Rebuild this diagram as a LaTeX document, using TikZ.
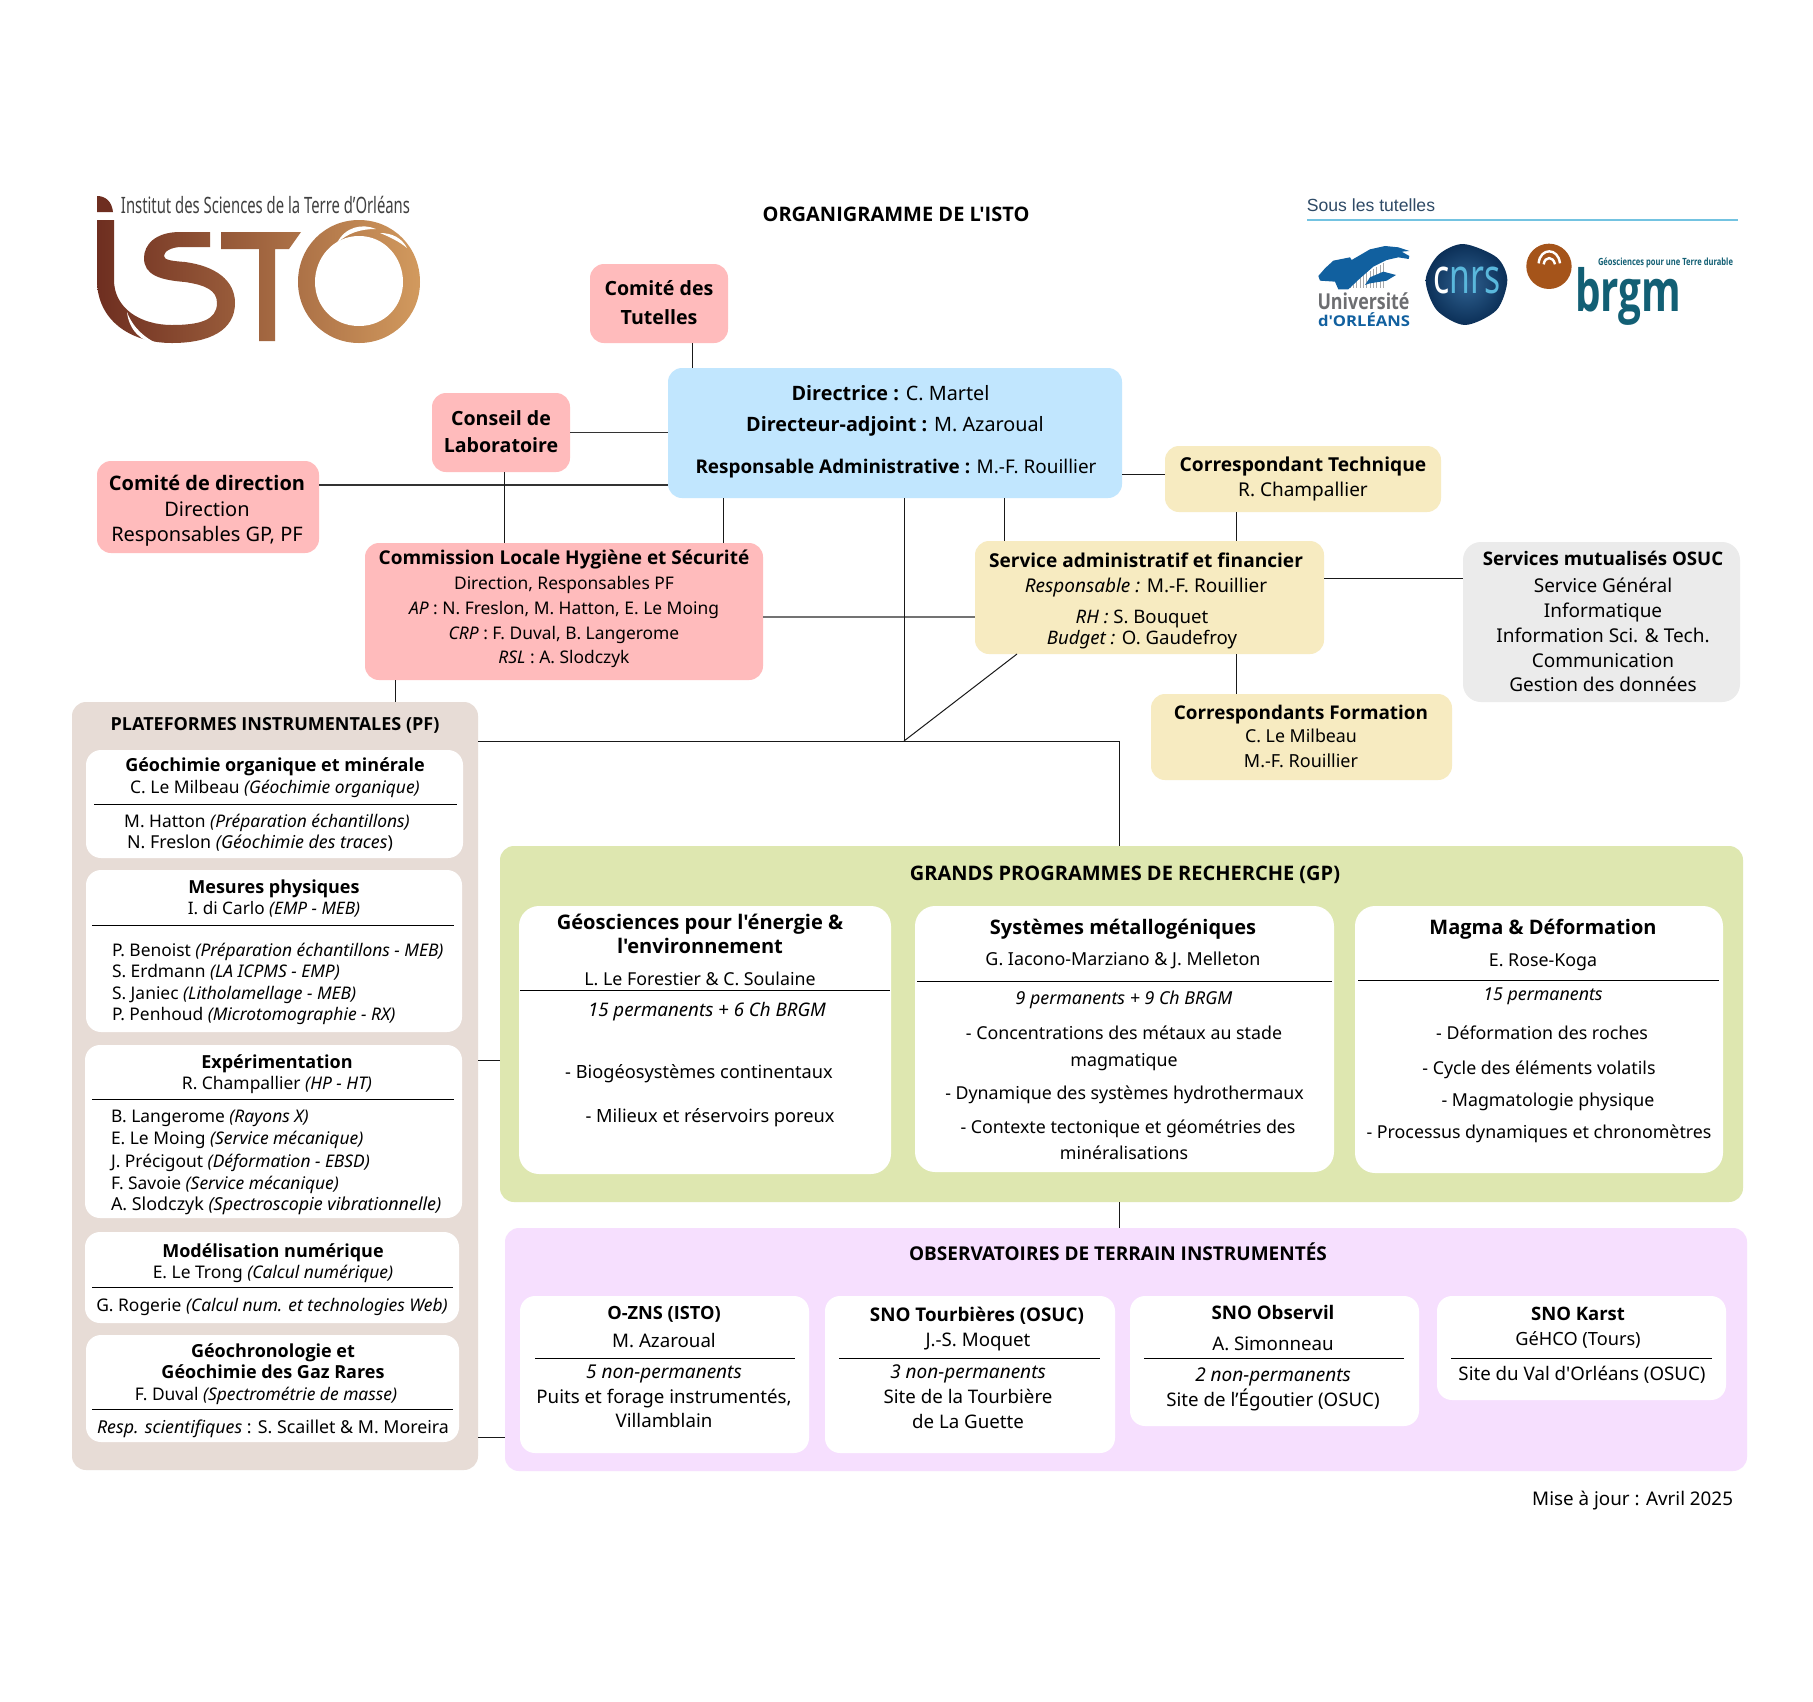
\documentclass[tikz,border=0pt]{standalone}
\usepackage{fontspec}
\usepackage{graphicx}
\newfontfamily\nf{Noto Sans}
\newfontfamily\ob{Open Sans}
\newfontfamily\lf{Liberation Sans}
\newcommand{\bo}{\ob\bfseries}
\newcommand{\tb}[1]{{\ob\bfseries #1}}
\definecolor{cpink}{HTML}{FFBBBC}
\definecolor{cblue}{HTML}{C1E6FE}
\definecolor{ccream}{HTML}{F7EBC1}
\definecolor{cgrey}{HTML}{EBEBEB}
\definecolor{ctan}{HTML}{E7DCD6}
\definecolor{cgreen}{HTML}{DEE7B0}
\definecolor{cpurple}{HTML}{F6DFFE}
\definecolor{logoA}{HTML}{6E2E20}
\definecolor{logoB}{HTML}{A4633A}
\definecolor{logoC}{HTML}{D29A5E}
\definecolor{ublue}{HTML}{11609F}
\definecolor{ugrey}{HTML}{6D6E71}
\definecolor{nlight}{HTML}{5AB8DC}
\definecolor{ndark}{HTML}{0B2F57}
\definecolor{nmid}{HTML}{2F6190}
\definecolor{borange}{HTML}{A5541A}
\definecolor{bteal}{HTML}{125F74}
\definecolor{sousc}{HTML}{2E4A66}
\newcounter{tlc}
\newcommand{\fsz}[1]{\nf\fontsize{#1}{#1}\selectfont}
\newcommand{\tl}[4][16]{\stepcounter{tlc}\node[lbl,font=\fsz{#1}] (t\arabic{tlc}) at (#2,#3+0.36*#1) {#4};}
\newcommand{\tlw}[4][16]{\stepcounter{tlc}\node[lbl,anchor=base west,font=\fsz{#1}] (t\arabic{tlc}) at (#2,#3+0.36*#1) {#4};}
\newcommand{\bx}[6]{\node[#2,minimum width={(#5-(#3))*1pt},minimum height={(#6-(#4))*1pt}] (#1) at ({(#3+#5)/2},{(#4+#6)/2}) {};}
\newcommand{\hr}[3]{\draw[sep] (#1,#3) -- (#2,#3);}
\tikzset{
 lbl/.style={anchor=base,inner sep=0pt,outer sep=0pt,text=black},
 box/.style={inner sep=0pt,outer sep=0pt,rounded corners=14pt,draw=none},
 pinkbox/.style={box,fill=cpink},
 bluebox/.style={box,fill=cblue},
 creambox/.style={box,fill=ccream},
 greybox/.style={box,fill=cgrey,rounded corners=18pt},
 tanbox/.style={box,fill=ctan},
 greenbox/.style={box,fill=cgreen},
 purplebox/.style={box,fill=cpurple},
 whitebox/.style={box,fill=white,rounded corners=15pt},
 whitebig/.style={box,fill=white,rounded corners=20pt},
 sep/.style={black,line width=0.9pt},
 conn/.style={black!90,line width=1pt},
 connb/.style={black!80,line width=1.4pt},
 conng/.style={black!55,line width=1.6pt},
 logotxt/.style={inner sep=0pt,outer sep=0pt},
}
\begin{document}
\begin{tikzpicture}[x=1pt,y=-1pt]
\useasboundingbox (0,0) rectangle (1813,1701);
\fill[white] (0,0) rectangle (1813,1701);

% ---------- ISTO logo
\fill[logoA] (97,212) -- (97,196) .. controls (106,196) and (112,202) .. (113,212) -- cycle;
\shade[left color=logoA,middle color=logoB,right color=logoC,shading angle=90]
 (97,220) -- (114,220) -- (114,280) .. controls (114,308) and (140,325) .. (172,325)
 .. controls (200,325) and (217,320) .. (217,303) .. controls (217,290) and (205,285) .. (185,282)
 .. controls (160,280) and (144,275) .. (144,258) .. controls (144,245) and (155,232) .. (180,232)
 -- (210,232) -- (210,247) -- (182,247) .. controls (170,247) and (164,252) .. (164,256)
 .. controls (164,260) and (172,261) .. (185,262) .. controls (215,266) and (235,280) .. (235,303)
 .. controls (235,330) and (210,343) .. (172,343) .. controls (130,343) and (97,320) .. (97,280) -- cycle
 (221,232) -- (301,232) -- (289,249) -- (275,249) -- (275,341) -- (259,341) -- (259,249) -- (221,249) -- cycle
 (359,220) .. controls (393,220) and (420,247) .. (420,282) .. controls (420,316) and (393,343) .. (359,343)
 .. controls (325,343) and (298,316) .. (298,282) .. controls (298,247) and (325,220) .. (359,220) -- cycle;
\fill[white] (359,236) .. controls (385,236) and (403,258) .. (403,282) .. controls (403,306) and (385,326) .. (359,326)
 .. controls (333,326) and (315,306) .. (315,282) .. controls (315,258) and (333,236) .. (359,236) -- cycle;
\fill[white] (127,312) .. controls (133,328) and (145,338) .. (158,344) .. controls (141,342) and (129,330) .. (127,312) -- cycle;
\fill[white] (337,243) .. controls (345,227) and (362,223) .. (376,229) .. controls (360,229) and (348,233) .. (337,243) -- cycle;
\fill[white] (380,233) .. controls (392,233) and (402,238) .. (407,248) .. controls (400,242) and (390,237) .. (380,233) -- cycle;
\node[logotxt,text=black!75] (istoname) at (265.5,204.5) {\resizebox*{289pt}{17.5pt}{\nf Institut des Sciences de la Terre d’Orléans}};

% ---------- title
\tl[20]{896}{214}{\bo ORGANIGRAMME DE L'ISTO}

% ---------- tutelles
\node[logotxt,text=sousc,font=\lf\fontsize{17.6}{18}\selectfont] (sous) at (1371,205) {Sous les tutelles};
\draw[nlight!85,line width=1.8pt] (1307,220) -- (1738,220);
\begin{scope}[shift={(1270,170)},x=.3333pt,y=-.3333pt]
 \foreach \xx in {240,250,...,340} \draw[ugrey!60,line width=.7pt] (\xx,{335-(\xx-240)*.55}) -- (\xx,355);
 \fill[ublue] (145,318) -- (165,295) -- (190,272) -- (240,262) -- (245,270) -- (300,238) -- (345,228) -- (385,232) -- (418,243) -- (395,245) -- (418,258) -- (416,267) -- (385,262) -- (350,270) -- (310,290) -- (270,325) -- (235,358) -- (205,358) -- (195,335) -- (150,332) -- cycle;
 \fill[ublue] (300,322) -- (340,305) -- (378,315) -- (350,332) -- (300,340) -- (285,345) -- cycle;
 \shade[inner color=nmid,outer color=ndark] plot[smooth cycle] coordinates {(580,222) (680,262) (712,330) (680,420) (585,465) (500,420) (467,330) (505,255)};
 \fill[borange] (837,289) circle (68);
 \draw[white,line width=2.4pt] (806,280) .. controls (810,232) and (865,232) .. (870,280);
 \draw[white,line width=2.4pt] (821,283) .. controls (825,258) and (850,258) .. (855,283);
\end{scope}
\node[logotxt,text=ugrey] (univ) at (1363.5,301) {\resizebox*{92pt}{17pt}{\bo Université}};
\node[logotxt,text=ublue] (orl) at (1364,320) {\resizebox*{92pt}{14pt}{\bo d'ORLÉANS}};
\node[logotxt] (cnrs) at (1467,280) {\resizebox*{67pt}{27pt}{\nf{\color{white}c}{\color{nlight}nrs}}};
\node[logotxt,text=bteal] (geosc) at (1665.5,263) {\resizebox*{135pt}{10pt}{\bo Géosciences pour une Terre durable}};
\node[logotxt,text=bteal] (brgm) at (1628,296) {\resizebox*{106pt}{58pt}{\bo brgm}};

% ---------- boxes
\bx{tut}{pinkbox}{590}{264}{728}{343}
\bx{conseil}{pinkbox}{432}{393}{570}{472}
\bx{cdd}{pinkbox}{97}{461}{319}{553}
\bx{dir}{bluebox}{668}{368}{1122}{498}
\bx{clhs}{pinkbox}{365}{543}{763}{680}
\bx{ct}{creambox}{1165}{446}{1441}{512}
\bx{saf}{creambox}{975}{541}{1324}{654}
\bx{form}{creambox}{1151}{694}{1452}{780}
\bx{osuc}{greybox}{1463}{542}{1740}{702}
\bx{pf}{tanbox}{72}{702}{478}{1470}
\bx{gp}{greenbox}{500}{846}{1743}{1202}
\bx{obs}{purplebox}{505}{1228}{1747}{1471}

% ---------- connectors
\draw[conn] ([xshift=102pt]tut.south west) -- ([xshift=24pt]dir.north west);
\draw[connb] (conseil.east) -- (conseil.east -| dir.west);
\draw[connb] ([yshift=22pt]cdd.east) -- ([yshift=22pt]cdd.east -| dir.west);
\draw[conn] ([xshift=72pt]conseil.south west) -- ([xshift=139pt]clhs.north west);
\draw[conn] ([xshift=55pt]dir.south west) -- ([xshift=358pt]clhs.north west);
\draw[conn] ([xshift=30pt]clhs.south west) -- ([xshift=323pt]pf.north west);
\draw[conng] ([yshift=-5.5pt]clhs.east) -- ([yshift=-19.5pt]saf.west);
\draw[conn] ([xshift=336.6pt]dir.south west) -- ([xshift=29.6pt]saf.north west);
\draw[conn] ([yshift=24pt]dir.south east) -- ([yshift=5pt]ct.west);
\draw[conn] ([xshift=71.6pt]ct.south west) -- ([xshift=261.6pt]saf.north west);
\draw[conn] ([xshift=261.6pt]saf.south west) -- ([xshift=85.6pt]form.north west);
\draw[conn] ([yshift=19.5pt]saf.east) -- ([yshift=44pt]osuc.west);
\coordinate (hub) at (904,741);
\draw[conn] ([xshift=236pt]dir.south west) -- (hub);
\draw[conn] ([xshift=42pt]saf.south west) -- (hub);
\draw[conn] ([yshift=-39pt]pf.north east) -| ([xshift=619pt]gp.north west);
\draw[conn] ([xshift=619pt]gp.south west) -- ([xshift=614pt]obs.north west);
\draw[conn] ([yshift=-358pt]pf.north east) -- ([yshift=-214pt]gp.north west);
\draw[conn] ([yshift=33pt]pf.south east) -- ([yshift=34pt]obs.south west);

% ---------- top box texts
\tl[19.6]{659}{288}{\bo Comité des}
\tl[19.6]{659}{317}{\bo Tutelles}
\tl[19.6]{501}{418}{\bo Conseil de}
\tl[19.6]{501}{445}{\bo Laboratoire}
\tl[20]{207}{483}{\bo Comité de direction}
\tl[20]{207}{509}{Direction}
\tl[20]{207}{534}{Responsables GP, PF}
\tl[19.8]{890.5}{393}{\tb{Directrice :} C. Martel}
\tl[19.8]{895}{424}{\tb{Directeur-adjoint :} M. Azaroual}
\tl[18.9]{896}{467}{\tb{Responsable Administrative :} M.-F. Rouillier}
\tl[19]{564}{558}{\bo Commission Locale Hygiène et Sécurité}
\tl[17.4]{564}{583}{Direction, Responsables PF}
\tl[17.4]{564}{608}{\textit{AP} : N. Freslon, M. Hatton, E. Le Moing}
\tl[17.4]{564}{633}{\textit{CRP} : F. Duval, B. Langerome}
\tl[17.4]{564}{657}{\textit{RSL} : A. Slodczyk}
\tl[19.2]{1303}{465}{\bo Correspondant Technique}
\tl[19]{1303}{490}{R. Champallier}
\tl[19.1]{1146}{561}{\bo Service administratif et financier}
\tl[19]{1146}{586}{\textit{Responsable :} M.-F. Rouillier}
\tl[18.6]{1142}{617}{\textit{RH :} S. Bouquet}
\tl[18.6]{1142}{638}{\textit{Budget :} O. Gaudefroy}
\tl[18.9]{1301}{713}{\bo Correspondants Formation}
\tl[17.8]{1301}{736}{C. Le Milbeau}
\tl[18]{1301}{761}{M.-F. Rouillier}
\tl[18.7]{1603}{559}{\bo Services mutualisés OSUC}
\tl[19]{1603}{586}{Service Général}
\tl[19]{1603}{611}{Informatique}
\tl[19]{1603}{636}{Information Sci. \& Tech.}
\tl[19]{1603}{661}{Communication}
\tl[19]{1603}{685}{Gestion des données}

% ---------- PF
\tl[18]{275}{724}{\bo PLATEFORMES INSTRUMENTALES (PF)}
\bx{pf1}{whitebox}{86}{750}{463}{858}
\hr{94}{457}{804}
\tl[18]{275}{765}{\bo Géochimie organique et minérale}
\tl[17.4]{275}{787}{C. Le Milbeau \textit{(Géochimie organique)}}
\tl[17.4]{267}{821}{M. Hatton \textit{(Préparation échantillons)}}
\tl[17.8]{260}{842}{N. Freslon \textit{(Géochimie des traces})}
\bx{pf2}{whitebox}{86}{870}{462}{1032}
\hr{92}{454}{925}
\tl[18]{274}{887}{\bo Mesures physiques}
\tl[17.2]{274}{908}{I. di Carlo \textit{(EMP - MEB)}}
\tlw[17.4]{112}{950}{P. Benoist \textit{(Préparation échantillons - MEB)}}
\tlw[17.4]{112}{971}{S. Erdmann \textit{(LA ICPMS - EMP)}}
\tlw[17.4]{112}{993}{S. Janiec \textit{(Litholamellage - MEB)}}
\tlw[17.4]{112}{1014}{P. Penhoud \textit{(Microtomographie - RX)}}
\bx{pf3}{whitebox}{85}{1045}{462}{1218}
\hr{92}{454}{1099}
\tl[18]{277}{1062}{\bo Expérimentation}
\tl[17.4]{277}{1083}{R. Champallier \textit{(HP - HT)}}
\tlw[17.4]{111}{1116}{B. Langerome \textit{(Rayons X)}}
\tlw[17.4]{111}{1138}{E. Le Moing \textit{(Service mécanique)}}
\tlw[17.4]{111}{1161}{J. Précigout \textit{(Déformation - EBSD)}}
\tlw[17.4]{111}{1183}{F. Savoie \textit{(Service mécanique)}}
\tlw[17.9]{111}{1204}{A. Slodczyk \textit{(Spectroscopie vibrationnelle)}}
\bx{pf4}{whitebox}{85}{1232}{459}{1323}
\hr{92}{453}{1287}
\tl[18]{273}{1251}{\bo Modélisation numérique}
\tl[17.4]{273}{1272}{E. Le Trong \textit{(Calcul numérique)}}
\tl[17.4]{272}{1305}{G. Rogerie \textit{(Calcul num. et technologies Web)}}
\bx{pf5}{whitebox}{86}{1335}{459}{1442}
\hr{92}{453}{1409}
\tl[18]{273}{1351}{\bo Géochronologie et}
\tl[18]{273}{1372}{\bo Géochimie des Gaz Rares}
\tl[17.4]{266}{1394}{F. Duval \textit{(Spectrométrie de masse)}}
\tl[17.8]{273}{1427}{\textit{Resp. scientifiques} : S. Scaillet \& M. Moreira}

% ---------- GP
\tl[20]{1125}{873}{\bo GRANDS PROGRAMMES DE RECHERCHE (GP)}
\bx{gp1}{whitebig}{519}{906}{891}{1174}
\hr{520}{890}{990}
\tl[20.1]{700}{922}{\bo Géosciences pour l'énergie \&}
\tl[20.1]{700}{946}{\bo l'environnement}
\tl[17.8]{700}{979}{L. Le Forestier \& C. Soulaine}
\tl[18.7]{707}{1010}{\textit{15 permanents + 6 Ch BRGM}}
\tl[18.2]{699}{1072}{- Biogéosystèmes continentaux}
\tl[18.2]{710}{1116}{- Milieux et réservoirs poreux}
\bx{gp2}{whitebig}{915}{906}{1334}{1172}
\hr{917}{1332}{981}
\tl[20]{1123}{927}{\bo Systèmes métallogéniques}
\tl[17.9]{1123}{959}{G. Iacono-Marziano \& J. Melleton}
\tl[17.8]{1124}{998}{\textit{9 permanents + 9 Ch BRGM}}
\tl[17.8]{1124}{1033}{- Concentrations des métaux au stade}
\tl[17.8]{1124}{1060}{magmatique}
\tl[17.8]{1124.5}{1093}{- Dynamique des systèmes hydrothermaux}
\tl[17.8]{1128}{1127}{- Contexte tectonique et géométries des}
\tl[17.8]{1124}{1153}{minéralisations}
\bx{gp3}{whitebig}{1355}{906}{1723}{1173}
\hr{1358}{1719}{980}
\tl[20]{1543}{927}{\bo Magma \& Déformation}
\tl[17.8]{1543}{960}{E. Rose-Koga}
\tl[17.8]{1543}{994}{\textit{15 permanents}}
\tl[17.8]{1542}{1033}{- Déformation des roches}
\tl[17.8]{1539}{1068}{- Cycle des éléments volatils}
\tl[17.8]{1548}{1100}{- Magmatologie physique}
\tl[17.8]{1539}{1132}{- Processus dynamiques et chronomètres}

% ---------- OBS
\tl[19]{1118}{1254}{\bo OBSERVATOIRES DE TERRAIN INSTRUMENTÉS}
\bx{o1}{whitebox}{520}{1296}{809}{1453}
\hr{535}{795}{1358}
\tl[18.2]{664}{1313}{\bo O-ZNS (ISTO)}
\tl[18.7]{664}{1341}{M. Azaroual}
\tl[19]{664}{1372}{\textit{5 non-permanents}}
\tl[18.7]{664}{1397}{Puits et forage instrumentés,}
\tl[18.7]{664}{1421}{Villamblain}
\bx{o2}{whitebox}{825}{1296}{1115}{1453}
\hr{839}{1100}{1358}
\tl[18.8]{977}{1315}{\bo SNO Tourbières (OSUC)}
\tl[18.7]{978}{1340}{J.-S. Moquet}
\tl[19]{968}{1372}{\textit{3 non-permanents}}
\tl[18.7]{968}{1397}{Site de la Tourbière}
\tl[18.7]{968}{1422}{de La Guette}
\bx{o3}{whitebox}{1130}{1296}{1419}{1426}
\hr{1144}{1404}{1358}
\tl[18.7]{1273}{1313}{\bo SNO Observil}
\tl[18.7]{1273}{1344}{A. Simonneau}
\tl[19]{1273}{1375}{\textit{2 non-permanents}}
\tl[18.7]{1273}{1400}{Site de l’Égoutier (OSUC)}
\bx{o4}{whitebox}{1437}{1296}{1726}{1400}
\hr{1451}{1712}{1358}
\tl[18.5]{1578}{1314}{\bo SNO Karst}
\tl[18.2]{1578}{1339}{GéHCO (Tours)}
\tl[18.7]{1582}{1374}{Site du Val d'Orléans (OSUC)}
\node[lbl,anchor=base east,font=\fsz{18.8}] (maj) at (1733,1505) {Mise à jour : Avril 2025};
\end{tikzpicture}
\end{document}
